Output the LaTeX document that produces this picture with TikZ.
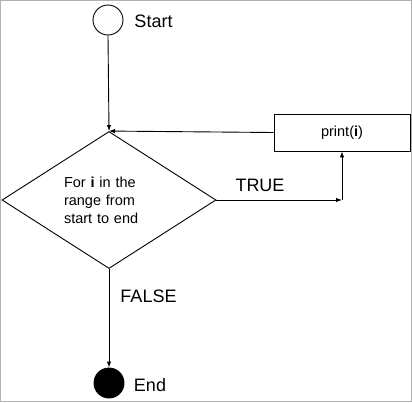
\documentclass[tikz,border=0pt]{standalone}
\usepackage{fontspec}
\setmainfont{Liberation Sans}
\usepackage{tikz}
\usetikzlibrary{arrows.meta,
	positioning,
	shapes.geometric}

\begin{document}
\begin{tikzpicture}[x=1pt,y=-1pt,line width=0.9pt,
        >={Latex[length=6pt,width=4.5pt]},
        term/.style={draw,circle,minimum size=30pt,inner sep=0pt},
        bigtxt/.style={inner sep=0pt,font=\fontsize{18}{21}\selectfont},
        smalltxt/.style={font=\fontsize{14.5}{18}\selectfont}]
        \useasboundingbox (0,0) rectangle (412,402);
        \draw [gray!60,line width=1pt] (0.5,0.5) rectangle (411.5,401.5);

        %Start
        \node [term] (start) at(108,20) {};
        \node [bigtxt] (starttxt) at(153.5,21.5) {Start};

        %for loop
        \node [draw,diamond,aspect=1.56,minimum width=214pt,minimum height=137pt,
               inner sep=0pt,text width=90pt,align=left,smalltxt] (cond) at(109,200)
               {For \textbf{i} in the\\range from\\start to end};
        \draw [->] (start.south)--(cond.north);

        %print
        \node [draw,minimum width=136pt,minimum height=37pt,inner sep=0pt,smalltxt] (print) at(342,132.5) {print(\textbf{i})};
        \draw [->] (print.west)--(cond.north);

        %TRUE
        \node [bigtxt] (truetxt) at(260,185) {TRUE};
        \coordinate (turn) at (print.south |- cond.east);
        \draw [->] (cond.east)--(turn);
        \draw [->] (turn)--(print.south);

        %End
        \node [term,fill=black] (end) at(109,383) {};
        \node [bigtxt] (endtxt) at(150,385.5) {End};
        \node [bigtxt] (falsetxt) at(148.5,296.5) {FALSE};
        \draw [->] (cond.south)--(end.north);
\end{tikzpicture}
\end{document}
